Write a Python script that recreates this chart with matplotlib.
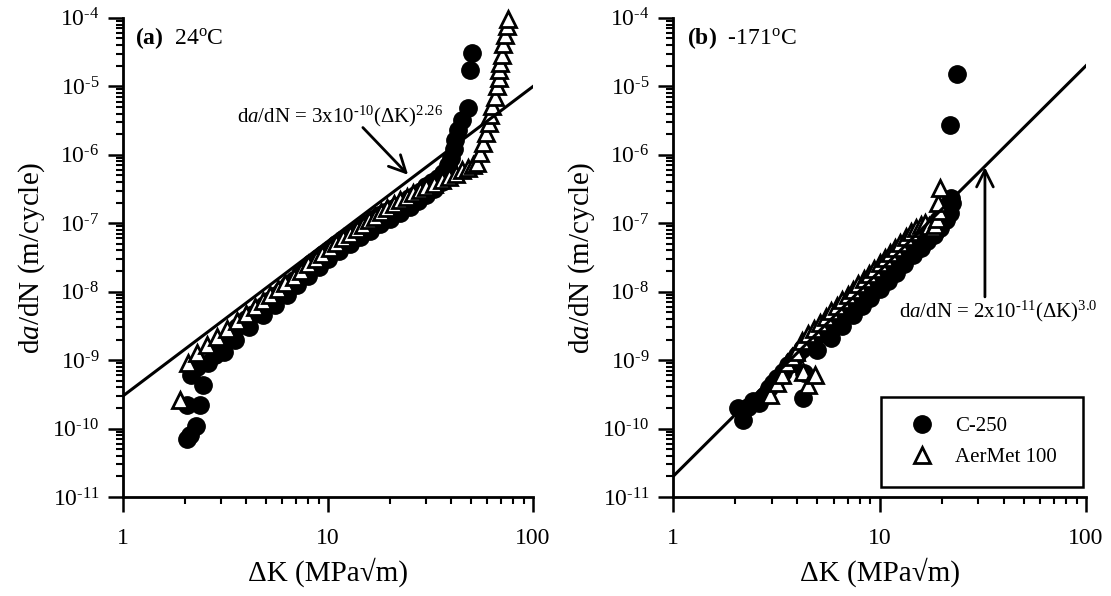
import numpy as np
import matplotlib
matplotlib.use('Agg')
import matplotlib.pyplot as plt
from matplotlib.ticker import LogLocator, NullFormatter, FuncFormatter

plt.rcParams['font.family'] = ['Liberation Serif', 'DejaVu Serif']
plt.rcParams['mathtext.fontset'] = 'custom'
plt.rcParams['mathtext.rm'] = 'Liberation Serif'
plt.rcParams['mathtext.it'] = 'Liberation Serif:italic'
plt.rcParams['mathtext.bf'] = 'Liberation Serif:bold'

HY = '\u2010'  # short hyphen for exponents

# ---------------------------------------------------------------------------
# (a) 24 C
# ---------------------------------------------------------------------------
dk_a_c250 = [2.05, 2.12, 2.28, 2.05, 2.37, 2.45, 2.15, 2.3, 2.6, 2.8, 3.0, 3.2,
             3.4, 3.6, 3.8, 4.0, 4.3, 4.6, 4.9, 5.2, 5.6, 6.0, 6.4, 6.8, 7.3,
             7.8, 8.3, 8.9, 9.5, 10.2, 11.0, 11.8, 12.6, 13.5, 14.5, 15.5,
             16.6, 17.8, 19.0, 20.3, 21.7, 23.2, 24.8, 26.5, 28.3, 30.2, 32.2,
             34.3, 36.5, 38.5, 40.0, 41.0, 41.6, 43.0, 45.0, 48.3, 49.3, 50.4,
             3.1, 3.5, 4.1, 4.8, 5.5, 6.3, 7.1, 8.0, 9.0, 10.0, 11.3, 12.8,
             14.3, 16.0, 18.0, 20.0, 22.5, 25.0, 27.5, 30.0, 33.0, 36.0, 39.0]
dadn_a_c250 = [7.0e-11, 8.0e-11, 1.1e-10, 2.2e-10, 2.2e-10, 4.3e-10, 6.0e-10,
               8.0e-10, 9.0e-10, 1.2e-9, 1.6e-9, 2.0e-9, 2.5e-9, 3.0e-9, 3.5e-9,
               4.0e-9, 4.8e-9, 5.6e-9, 6.5e-9, 7.5e-9, 9.0e-9, 1.05e-8, 1.25e-8,
               1.5e-8, 1.8e-8, 2.2e-8, 2.6e-8, 3.1e-8, 3.6e-8, 4.2e-8, 5.0e-8,
               5.8e-8, 6.6e-8, 7.5e-8, 8.5e-8, 1.0e-7, 1.15e-7, 1.3e-7, 1.45e-7,
               1.6e-7, 1.8e-7, 2.0e-7, 2.3e-7, 2.6e-7, 3.0e-7, 3.5e-7, 4.0e-7,
               4.6e-7, 5.5e-7, 7.0e-7, 9.0e-7, 1.2e-6, 1.66e-6, 2.3e-6, 3.2e-6,
               4.9e-6, 1.75e-5, 3.1e-5,
               1.3e-9, 2.0e-9, 3.0e-9, 4.5e-9, 6.5e-9, 9.0e-9, 1.25e-8, 1.7e-8,
               2.3e-8, 3.0e-8, 3.9e-8, 5.0e-8, 6.3e-8, 7.8e-8, 9.6e-8, 1.15e-7,
               1.4e-7, 1.7e-7, 2.1e-7, 2.6e-7, 3.2e-7, 4.0e-7, 5.0e-7]

dk_a_aermet = [1.9, 2.08, 2.3, 2.57, 2.87, 3.2, 3.6, 4.0, 4.4, 4.8, 5.2, 5.7,
               6.2, 6.8, 7.4, 8.0, 8.7, 9.4, 10.2, 11.0, 11.9, 12.8, 13.8, 14.8,
               15.9, 17.0, 18.2, 19.5, 21.0, 22.5, 24.2, 26.0, 28.0, 30.0, 33.0,
               36.0, 39.0, 42.0, 45.0, 48.0, 51.0, 53.3, 55.2, 57.3, 59.0, 60.8,
               61.9, 63.0, 65.1, 66.5, 68.0, 68.6, 69.2, 70.7, 71.8, 72.9, 74.3,
               75.3]
dadn_a_aermet = [2.6e-10, 9.1e-10, 1.27e-9, 1.66e-9, 2.2e-9, 2.9e-9, 3.7e-9,
                 4.8e-9, 6.0e-9, 7.4e-9, 9.0e-9, 1.1e-8, 1.35e-8, 1.65e-8,
                 2.0e-8, 2.5e-8, 3.0e-8, 3.6e-8, 4.3e-8, 5.1e-8, 6.0e-8, 7.0e-8,
                 8.2e-8, 9.5e-8, 1.1e-7, 1.25e-7, 1.45e-7, 1.65e-7, 1.9e-7,
                 2.15e-7, 2.45e-7, 2.8e-7, 3.1e-7, 3.4e-7, 3.8e-7, 4.3e-7,
                 4.8e-7, 5.3e-7, 5.9e-7, 6.5e-7, 7.1e-7, 7.6e-7, 1.06e-6,
                 1.48e-6, 2.1e-6, 2.9e-6, 3.8e-6, 5.1e-6, 7.1e-6, 1.0e-5,
                 1.32e-5, 1.75e-5, 2.2e-5, 2.9e-5, 4.1e-5, 5.7e-5, 7.5e-5, 9.5e-5]

# ---------------------------------------------------------------------------
# (b) -171 C
# ---------------------------------------------------------------------------
dk_b_c250 = [2.07, 2.18, 2.3, 2.44, 2.6, 2.75, 2.9, 3.05, 3.2, 3.4, 3.6, 3.8,
             4.0, 4.25, 4.3, 4.2, 4.5, 4.8, 5.1, 5.4, 5.7, 6.0, 6.4, 6.8, 7.2,
             7.6, 8.0, 8.5, 9.0, 9.6, 10.2, 10.8, 11.5, 12.2, 13.0, 13.8, 14.6,
             15.5, 16.3, 17.2, 18.2, 19.2, 20.2, 21.0, 21.6, 22.1, 22.5, 21.9,
             23.6,
             5.0, 5.8, 6.6, 7.4, 8.2, 9.0, 10.0, 11.0, 12.0, 13.2, 14.5, 15.8,
             17.0, 18.3, 19.6, 21.0, 22.0]
dadn_b_c250 = [2.0e-10, 1.35e-10, 2.1e-10, 2.5e-10, 2.4e-10, 3.0e-10, 3.9e-10,
               4.6e-10, 5.5e-10, 6.8e-10, 8.5e-10, 1.0e-9, 1.2e-9, 2.8e-10,
               6.5e-10, 1.45e-9, 1.7e-9, 2.0e-9, 2.4e-9, 2.9e-9, 3.4e-9, 3.9e-9,
               4.6e-9, 5.5e-9, 6.4e-9, 7.5e-9, 8.8e-9, 1.05e-8, 1.25e-8, 1.5e-8,
               1.8e-8, 2.15e-8, 2.6e-8, 3.1e-8, 3.7e-8, 4.5e-8, 5.3e-8, 6.2e-8,
               7.2e-8, 8.2e-8, 9.4e-8, 1.1e-7, 1.3e-7, 1.55e-7, 1.9e-7, 2.3e-7,
               2.0e-7, 2.75e-6, 1.5e-5,
               1.4e-9, 2.1e-9, 3.2e-9, 4.5e-9, 6.1e-9, 8.0e-9, 1.1e-8, 1.45e-8,
               1.9e-8, 2.5e-8, 3.4e-8, 4.3e-8, 5.5e-8, 6.8e-8, 8.5e-8, 1.1e-7,
               1.4e-7]

dk_b_aermet = [2.95, 3.2, 3.37, 3.55, 3.75, 3.95, 4.27, 4.5, 4.87, 4.2, 4.5,
               4.8, 5.15, 5.5, 5.85, 6.2, 6.6, 7.0, 7.4, 7.9, 8.4, 8.9, 9.4,
               10.0, 10.6, 11.2, 11.9, 12.6, 13.4, 14.2, 15.0, 15.8, 16.6, 17.4,
               18.2, 18.6, 19.0, 19.4, 19.2, 19.6]
dadn_b_aermet = [3.1e-10, 4.6e-10, 6.0e-10, 9.0e-10, 1.1e-9, 1.3e-9, 6.7e-10,
                 4.3e-10, 6.0e-10, 1.9e-9, 2.4e-9, 2.9e-9, 3.5e-9, 4.3e-9,
                 5.2e-9, 6.2e-9, 7.5e-9, 8.9e-9, 1.05e-8, 1.28e-8, 1.54e-8,
                 1.83e-8, 2.16e-8, 2.6e-8, 3.1e-8, 3.65e-8, 4.4e-8, 5.2e-8,
                 6.2e-8, 7.4e-8, 8.5e-8, 9.5e-8, 1.0e-7, 9.0e-8, 8.5e-8, 9.5e-8,
                 1.15e-7, 1.5e-7, 2.0e-7, 3.3e-7]

# Paris law fits: da/dN = C * dK^m
fit_a = (3e-10, 2.26)
fit_b = (2e-11, 3.0)


def style_axes(ax):
    ax.set_xscale('log')
    ax.set_yscale('log')
    ax.set_xlim(1, 100)
    ax.set_ylim(1e-11, 1e-4)
    for s in ['top', 'right']:
        ax.spines[s].set_visible(False)
    for s in ['left', 'bottom']:
        ax.spines[s].set_linewidth(2)
    for axis in (ax.xaxis, ax.yaxis):
        axis.set_major_locator(LogLocator(base=10, numticks=20))
        axis.set_minor_locator(LogLocator(base=10, subs=np.arange(2, 10), numticks=100))
        axis.set_minor_formatter(NullFormatter())
    ax.xaxis.set_major_formatter(FuncFormatter(lambda v, p: '%g' % v))
    ax.yaxis.set_major_formatter(
        FuncFormatter(lambda v, p: r'$10^{%s%d}$' % (HY, -int(round(np.log10(v))))))
    ax.tick_params(which='major', direction='out', length=11, width=1.8,
                   labelsize=17, pad=6)
    ax.tick_params(axis='x', which='major', pad=11)
    ax.tick_params(which='minor', direction='out', length=5, width=1.5)
    ax.set_xlabel('ΔK (MPa√m)', fontsize=21, labelpad=6)
    ax.set_ylabel(r'd$\it{a}$/dN (m/cycle)', fontsize=21)


def draw(ax, dk_c, y_c, dk_t, y_t, fit):
    ax.plot(dk_c, y_c, 'o', ms=12.5, mfc='black', mec='black', mew=1,
            clip_on=False, label='C-250', zorder=3)
    ax.plot(dk_t, y_t, '^', ms=12, mfc='white', mec='black', mew=2,
            clip_on=False, label='AerMet 100', zorder=4)
    dk = np.array([1.0, 100.0])
    ax.plot(dk, fit[0] * dk ** fit[1], '-', color='black', lw=2.2, zorder=5)


fig = plt.figure(figsize=(11.11, 5.96), dpi=100)
ax1 = fig.add_axes([0.1107, 0.166, 0.369, 0.804])
ax2 = fig.add_axes([0.6058, 0.166, 0.3717, 0.804])

style_axes(ax1)
style_axes(ax2)
draw(ax1, dk_a_c250, dadn_a_c250, dk_a_aermet, dadn_a_aermet, fit_a)
draw(ax2, dk_b_c250, dadn_b_c250, dk_b_aermet, dadn_b_aermet, fit_b)

ax1.text(0.03, 0.958, r'$\bf{(a)}$  24$^{\rm o}$C', transform=ax1.transAxes,
         fontsize=17, va='center', ha='left')
ax2.text(0.034, 0.958, r'$\bf{(b)}$  -171$^{\rm o}$C', transform=ax2.transAxes,
         fontsize=17, va='center', ha='left')

arrow = dict(arrowstyle='->', lw=2, color='black', mutation_scale=30,
             shrinkA=0, shrinkB=0)
ax1.annotate('', xy=(24.6, 5.1e-7), xytext=(14.8, 2.5e-6), arrowprops=arrow)
ax1.text(3.6, 3.0e-6, r'd$\it{a}$/dN = 3x10$^{%s10}$($\Delta$K)$^{2.26}$' % HY,
         fontsize=15, ha='left', va='baseline')
ax2.annotate('', xy=(32.4, 6.6e-7), xytext=(32.4, 8.4e-9), arrowprops=arrow)
ax2.text(12.4, 4.3e-9, r'd$\it{a}$/dN = 2x10$^{%s11}$($\Delta$K)$^{3.0}$' % HY,
         fontsize=15, ha='left', va='baseline')

leg = ax2.legend(loc='lower left', bbox_to_anchor=(0.504, 0.021, 0.489, 0.19),
                 mode='expand', borderaxespad=0, fancybox=False,
                 edgecolor='black', fontsize=15, borderpad=0.95,
                 handletextpad=0.6, labelspacing=0.55, framealpha=1)
leg.get_frame().set_linewidth(1.8)

fig.savefig('out.png', dpi=100)
